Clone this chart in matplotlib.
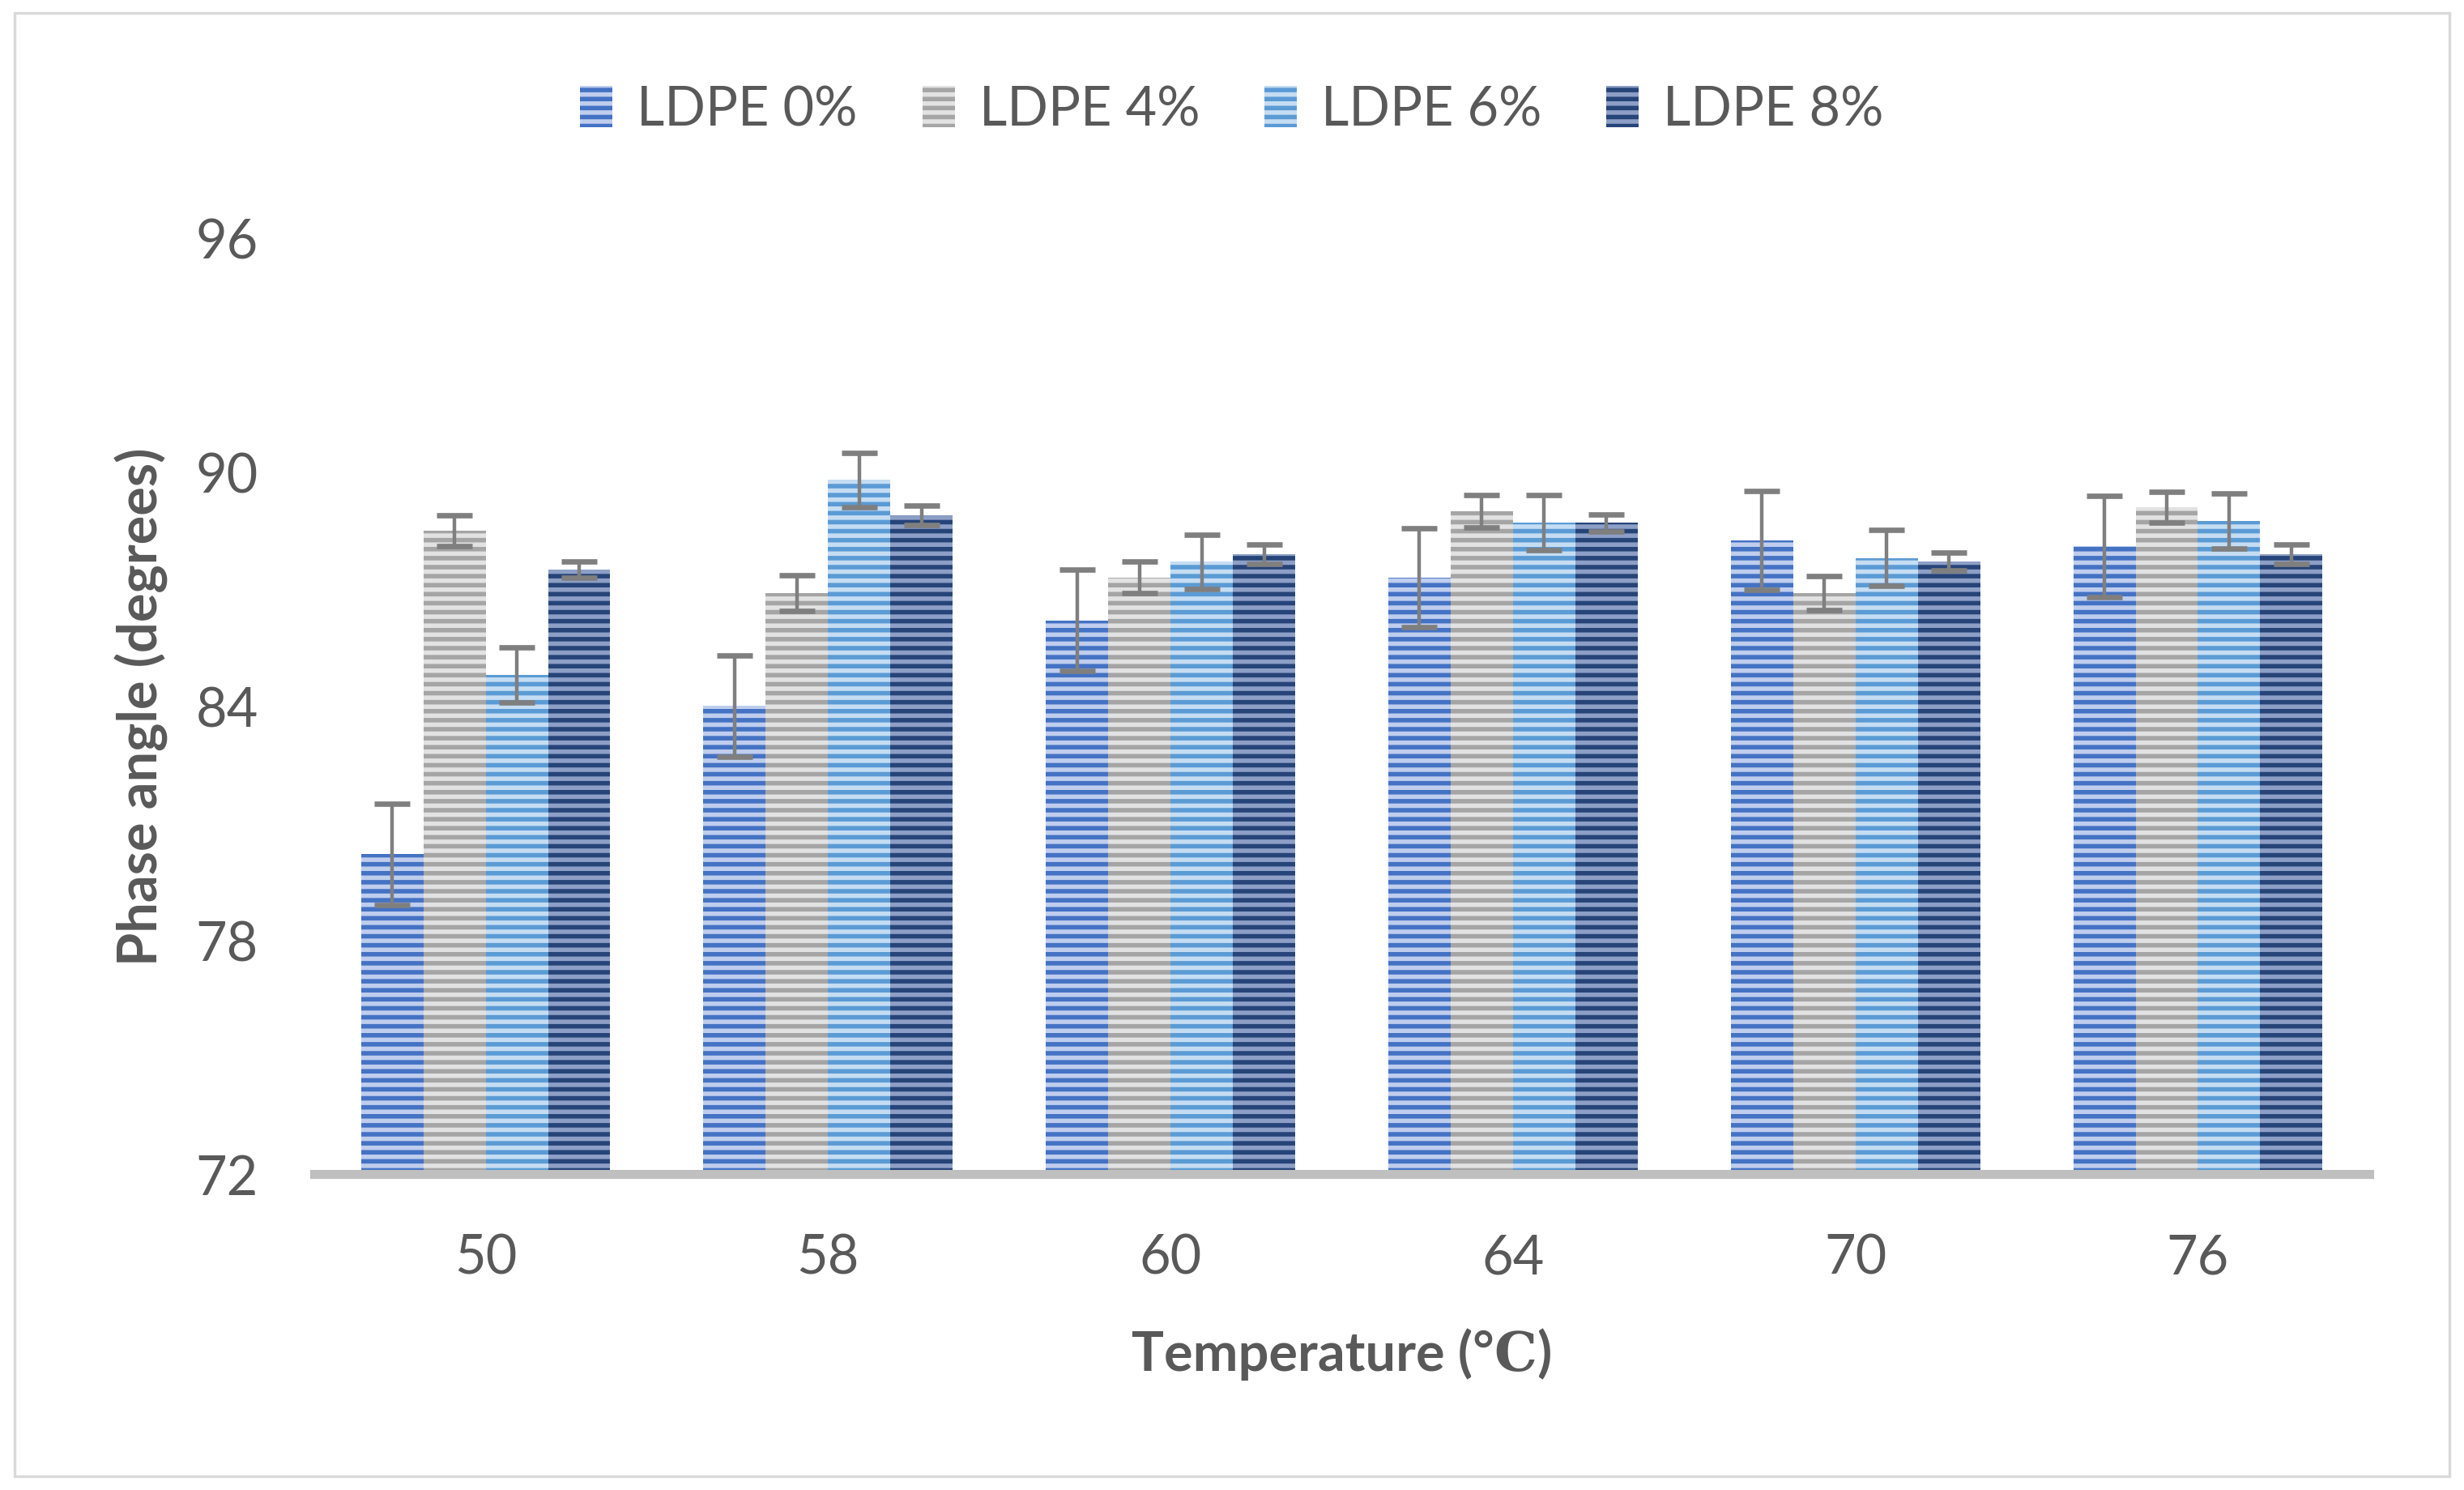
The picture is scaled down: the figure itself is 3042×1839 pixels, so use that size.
import matplotlib
matplotlib.use("Agg")
import matplotlib.pyplot as plt
import numpy as np
from matplotlib.patches import Rectangle

# data
temps = ["50", "58", "60", "64", "70", "76"]
series = ["LDPE 0%", "LDPE 4%", "LDPE 6%", "LDPE 8%"]

ldpe0 = [80.2, 84.0, 86.2, 87.3, 88.25, 88.1]
ldpe4 = [88.5, 86.9, 87.3, 89.0, 86.9, 89.1]
ldpe6 = [84.8, 89.8, 87.7, 88.7, 87.8, 88.75]
ldpe8 = [87.5, 88.9, 87.9, 88.7, 87.7, 87.9]

err0 = [1.3, 1.3, 1.3, 1.27, 1.27, 1.3]
err4 = [0.4, 0.45, 0.4, 0.42, 0.43, 0.4]
err6 = [0.7, 0.7, 0.7, 0.71, 0.71, 0.7]
err8 = [0.2, 0.25, 0.25, 0.22, 0.23, 0.25]

yticks = [72, 78, 84, 90, 96]

base_colors = ["#4472C4", "#A5A5A5", "#5B9BD5", "#264478"]
stripe_colors = ["#BFCDEE", "#E2E2E2", "#C5DDF3", "#8D9FC6"]

txt = "#595959"
plt.rcParams["font.family"] = ["Lato", "DejaVu Sans"]
plt.rcParams["hatch.linewidth"] = 2.0

fig = plt.figure(figsize=(15.21, 9.2), dpi=200)
ax = fig.add_axes([0.1276, 0.212, 0.8339, 0.6277])

x = np.arange(len(temps))
w = 0.182
values = [ldpe0, ldpe4, ldpe6, ldpe8]
errs = [err0, err4, err6, err8]

for i in range(4):
    pos = x + (i - 1.5) * w
    ax.bar(pos, np.array(values[i]) - 72, bottom=72, width=w,
           color=base_colors[i], edgecolor=stripe_colors[i], linewidth=0,
           hatch="---", label=series[i], zorder=2)
    ax.errorbar(pos, values[i], yerr=errs[i], fmt="none", ecolor="#7F7F7F",
                elinewidth=1.6, capsize=8, capthick=2.4, zorder=3)

ax.set_xlim(-0.5, 5.5)
ax.set_ylim(72, 96)
ax.set_yticks(yticks)
ax.set_xticks(x)
ax.set_xticklabels(temps)

for s in ["top", "right", "left"]:
    ax.spines[s].set_visible(False)
ax.spines["bottom"].set_color("#BFBFBF")
ax.spines["bottom"].set_linewidth(4)
ax.spines["bottom"].set_zorder(4)

ax.tick_params(axis="both", length=0, labelsize=24, colors=txt)
ax.tick_params(axis="y", pad=25)
ax.tick_params(axis="x", pad=26)

ax.set_xlabel("Temperature (℃)", fontsize=24, fontweight="bold", color=txt, labelpad=20,
              family=["Lato", "DejaVu Serif"])
ax.set_ylabel("Phase angle (degrees)", fontsize=24, fontweight="bold", color=txt, labelpad=12)

ax.legend(loc="center", bbox_to_anchor=(0.4466, 1.137), ncol=4, frameon=False,
          fontsize=24, labelcolor=txt, handlelength=0.6, handleheight=0.8,
          columnspacing=1.2, handletextpad=0.45)

# thin frame around the whole chart
fig.patches.append(Rectangle((0.006, 0.009), 0.988, 0.982, transform=fig.transFigure,
                             fill=False, edgecolor="#D9D9D9", linewidth=1.2))

fig.savefig("out.png", dpi=200)
